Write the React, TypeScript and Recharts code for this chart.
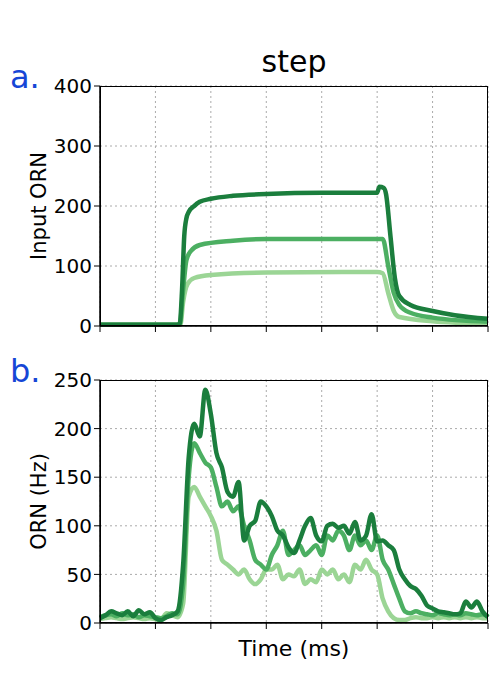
import { LineChart, Line, XAxis, YAxis, CartesianGrid } from 'recharts'

const xTicks = [0, 500, 1000, 1500, 2000, 2500, 3000, 3500]
const topTicks = [0, 100, 200, 300, 400]
const bottomTicks = [0, 50, 100, 150, 200, 250]

// input ORN (step), three concentrations
const inputDark: [number, number][] = [
  [0, 2], [700, 2], [720, 5], [740, 60], [760, 150], [780, 180], [800, 190], [850, 200], [900, 207],
  [1000, 212], [1200, 217], [1500, 220], [2000, 222], [2500, 222], [2520, 232], [2560, 230],
  [2580, 220], [2620, 150], [2660, 80], [2700, 50], [2800, 35], [3000, 25], [3200, 18], [3500, 12],
]
const inputMed: [number, number][] = [
  [0, 2], [720, 2], [745, 50], [780, 110], [820, 125], [900, 135], [1200, 142], [1500, 145],
  [2550, 145], [2600, 100], [2650, 55], [2700, 35], [2800, 22], [3000, 14], [3500, 7],
]
const inputLight: [number, number][] = [
  [0, 2], [725, 2], [750, 40], [790, 70], [850, 80], [1000, 85], [1500, 89], [2500, 90],
  [2550, 88], [2600, 55], [2650, 25], [2700, 15], [3000, 8], [3500, 4],
]

const rateTimes = [
  0, 50, 100, 150, 200, 250, 300, 350, 400, 450, 500, 550, 600, 650, 700, 750, 800, 850, 900, 950,
  1000, 1050, 1100, 1150, 1200, 1250, 1300, 1350, 1400, 1450, 1500, 1550, 1600, 1650, 1700, 1750,
  1800, 1850, 1900, 1950, 2000, 2050, 2100, 2150, 2200, 2250, 2300, 2350, 2400, 2450, 2500, 2550,
  2600, 2650, 2700, 2750, 2800, 2850, 2900, 2950, 3000, 3050, 3100, 3150, 3200, 3250, 3300, 3350,
  3400, 3450, 3500,
]
const rateDark = [
  5, 8, 12, 10, 8, 12, 7, 13, 9, 11, 5, 3, 6, 8, 12, 60, 170, 205, 192, 240,
  215, 175, 160, 135, 130, 145, 85, 100, 105, 125, 120, 110, 95, 90, 78, 72,
  85, 100, 108, 90, 84, 100, 102, 98, 100, 92, 104, 85, 90, 112, 84, 85,
  80, 75, 55, 45, 38, 35, 28, 18, 15, 12, 11, 10, 9, 10, 22, 16,
  22, 12, 6,
]
const rateMed = [
  6, 8, 9, 7, 10, 8, 9, 6, 8, 7, 6, 5, 7, 10, 9, 40, 150, 185, 175, 165,
  160, 140, 120, 125, 115, 120, 100, 85, 65, 60, 55, 70, 80, 95, 70, 75,
  80, 70, 75, 80, 70, 90, 85, 95, 90, 75, 90, 80, 85, 75, 90, 65,
  55, 40, 25, 12, 10, 12, 10, 9, 8, 10, 9, 8, 9, 8, 10, 9,
  8, 9, 7,
]
const rateLight = [
  4, 5, 6, 5, 4, 5, 6, 5, 4, 5, 4, 3, 10, 8, 6, 20, 130, 140, 130, 120,
  110, 95, 65, 60, 55, 50, 55, 45, 40, 45, 55, 55, 60, 45, 50, 48,
  55, 40, 45, 42, 55, 50, 55, 45, 50, 42, 60, 55, 65, 55, 50, 25,
  12, 5, 3, 3, 5, 6, 5, 5, 6, 5, 6, 5, 6, 5, 6, 5,
  6, 5, 5,
]

const DARK = '#1b7e3d'
const MED = '#4caf62'
const LIGHT = '#9bd595'
const FONT = '"DejaVu Sans", sans-serif'

const toRows = (pts: [number, number][]) => pts.map(([t, v]) => ({ t, v }))
const rateRows = (vals: number[]) => rateTimes.map((t, i) => ({ t, v: vals[i] }))

const tick = { fill: '#000', fontSize: 20, fontFamily: FONT }

function Panel({ series, yTicks, yMax, height, top, label }: {
  series: { data: { t: number; v: number }[]; color: string }[]
  yTicks: number[]; yMax: number; height: number; top: number; label: string
}) {
  return (
    <LineChart width={500} height={height} margin={{ top, right: 12, bottom: 0, left: 40 }}>
      <CartesianGrid stroke="#aaa" strokeDasharray="2 3" />
      <XAxis dataKey="t" type="number" domain={[0, 3500]} ticks={xTicks} tickFormatter={() => ''}
        height={height - top - (yMax === 400 ? 240 : 243)} axisLine={{ stroke: '#000', strokeWidth: 1.5 }}
        tickLine={{ stroke: '#000' }} tickSize={6} />
      <YAxis type="number" domain={[0, yMax]} ticks={yTicks} width={60} tick={tick} interval={0}
        axisLine={{ stroke: '#000', strokeWidth: 1.5 }} tickLine={{ stroke: '#000' }} tickSize={6}
        label={{ value: label, angle: -90, position: 'insideLeft', dx: -6, fill: '#000', fontSize: 21, fontFamily: FONT, style: { textAnchor: 'middle' } }} />
      {series.map((s, i) => (
        <Line key={i} data={s.data} dataKey="v" stroke={s.color} strokeWidth={4.5} dot={false}
          type="monotone" isAnimationActive={false} />
      ))}
    </LineChart>
  )
}

export default function App() {
  return (
    <div style={{ position: 'relative', width: 500, height: 700, margin: -8, background: '#fff', fontFamily: FONT }}>
      <div style={{ position: 'absolute', left: 0, top: 0 }}>
        <Panel top={86} height={340} yMax={400} yTicks={topTicks} label="Input ORN"
          series={[
            { data: toRows(inputLight), color: LIGHT },
            { data: toRows(inputMed), color: MED },
            { data: toRows(inputDark), color: DARK },
          ]} />
      </div>
      <div style={{ position: 'absolute', left: 0, top: 340 }}>
        <Panel top={40} height={300} yMax={250} yTicks={bottomTicks} label="ORN (Hz)"
          series={[
            { data: rateRows(rateLight), color: LIGHT },
            { data: rateRows(rateMed), color: MED },
            { data: rateRows(rateDark), color: DARK },
          ]} />
      </div>
      <div style={{ position: 'absolute', left: 100, top: 86, width: 388, height: 240, border: '1.5px solid #000', boxSizing: 'border-box', pointerEvents: 'none' }} />
      <div style={{ position: 'absolute', left: 100, top: 380, width: 388, height: 243, border: '1.5px solid #000', boxSizing: 'border-box', pointerEvents: 'none' }} />
      <div style={{ position: 'absolute', left: 100, width: 388, top: 44, textAlign: 'center', fontSize: 30 }}>step</div>
      <div style={{ position: 'absolute', left: 10, top: 58, fontSize: 32, color: '#1646d6' }}>a.</div>
      <div style={{ position: 'absolute', left: 10, top: 352, fontSize: 32, color: '#1646d6' }}>b.</div>
      <div style={{ position: 'absolute', left: 100, width: 388, top: 636, textAlign: 'center', fontSize: 22 }}>Time (ms)</div>
    </div>
  )
}
